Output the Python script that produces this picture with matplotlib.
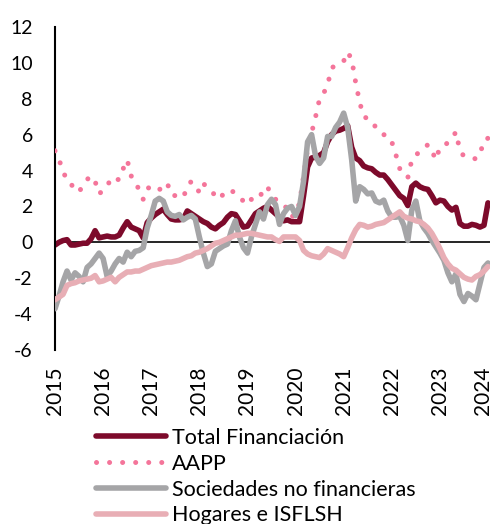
import matplotlib
matplotlib.use("Agg")
import matplotlib.pyplot as plt
import matplotlib.transforms as mtransforms
import numpy as np

plt.rcParams['font.family'] = ['Lato', 'DejaVu Sans']

# Monthly data, Jan 2015 .. Jan 2024 (index 0..108)
total_financiacion = [
    -0.15, 0.0, 0.1, 0.15, -0.15, -0.15, -0.1, -0.05, -0.05, 0.2, 0.65, 0.25,
    0.3, 0.35, 0.3, 0.3, 0.4, 0.8, 1.15, 0.85, 0.75, 0.65, 0.25, 1.1,
    1.35, 1.55, 1.7, 1.85, 1.55, 1.3, 1.25, 1.25, 1.3, 1.75, 1.6, 1.45,
    1.3, 1.15, 1.05, 0.85, 0.75, 0.95, 1.1, 1.4, 1.6, 1.55, 1.2, 0.85,
    0.9, 1.25, 1.6, 1.75, 1.9, 2.0, 1.8, 1.6, 1.4, 1.2, 1.25, 1.15,
    1.15, 1.15, 2.6, 4.2, 4.7, 4.75, 4.85, 5.0, 5.6, 6.0, 6.2, 6.25,
    6.35, 6.5, 5.3, 4.7, 4.55, 4.25, 4.15, 4.1, 3.9, 3.75, 3.75, 3.5,
    3.2, 2.9, 2.6, 2.45, 2.05, 3.1, 3.3, 3.1, 3.0, 2.95, 2.6, 2.2,
    2.35, 2.3, 2.0, 1.8, 1.95, 1.05, 0.9, 0.9, 1.0, 0.95, 0.85, 0.95,
    2.2,
]
aapp = [
    5.1, 4.6, 4.0, 3.4, 3.2, 3.1, 2.8, 3.2, 3.5, 3.7, 3.4, 2.7,
    2.9, 3.1, 3.6, 3.5, 3.5, 4.1, 4.6, 3.7, 3.4, 2.9, 2.4, 3.0,
    3.1, 2.9, 2.95, 3.0, 3.3, 2.65, 2.6, 2.6, 2.5, 3.1, 3.4, 3.1,
    2.8, 3.3, 3.0, 2.85, 2.6, 2.4, 2.7, 2.9, 2.9, 2.7, 2.5, 2.3,
    2.1, 2.4, 2.35, 2.45, 3.0, 3.1, 2.6, 2.4, 2.3, 2.15, 1.8, 1.4,
    1.6, 2.2, 3.7, 5.2, 6.1, 7.0, 8.0, 8.3, 8.8, 9.7, 9.9, 10.0,
    10.1, 10.6, 10.2, 8.9, 7.8, 7.0, 6.9, 6.8, 6.4, 6.1, 6.0, 5.95,
    5.6, 4.9, 4.1, 3.85, 3.6, 4.6, 4.9, 5.0, 5.2, 5.45, 5.1, 4.6,
    5.3, 5.4, 5.55, 5.8, 6.15, 5.1, 4.8, 4.75, 4.7, 4.65, 4.9, 5.7,
    5.8,
]
sociedades = [
    -3.7, -3.0, -2.2, -1.6, -2.1, -1.7, -1.9, -2.2, -1.4, -1.2, -0.9, -0.6,
    -0.9, -1.9, -1.6, -1.2, -0.9, -1.1, -0.55, -0.8, -0.5, -0.45, -0.3, 0.8,
    1.5, 2.3, 2.45, 2.3, 1.7, 1.5, 1.45, 1.55, 1.25, 1.4, 1.5, 1.3,
    0.3, -0.6, -1.35, -1.2, -0.5, -0.35, -0.2, -0.1, 0.65, 1.2, 0.3, -0.3,
    -0.6, 0.3, 1.0, 1.7, 1.3, 2.1, 2.4, 2.1, 1.0, 1.6, 1.9, 2.0,
    1.5, 2.0, 3.4, 5.6, 6.0, 4.8, 4.4, 4.7, 5.9, 5.9, 6.4, 6.7,
    7.2, 6.4, 4.6, 2.3, 3.1, 2.95, 2.7, 2.75, 2.3, 2.2, 2.35, 1.75,
    1.4, 1.4, 1.45, 0.95, 0.1, 1.8, 2.3, 1.2, 0.8, 0.5, 0.1, -0.25,
    -0.6, -1.0, -1.7, -2.2, -1.75, -2.9, -3.3, -2.85, -3.0, -3.2, -2.3, -1.4,
    -1.15,
]
hogares = [
    -3.2, -3.05, -2.9, -2.4, -2.3, -2.25, -2.15, -2.1, -2.05, -2.0, -1.85, -2.2,
    -2.15, -2.05, -1.95, -2.2, -1.95, -1.8, -1.65, -1.65, -1.6, -1.6, -1.5, -1.4,
    -1.3, -1.25, -1.2, -1.15, -1.1, -1.1, -1.05, -1.0, -0.9, -0.8, -0.75, -0.6,
    -0.55, -0.45, -0.35, -0.2, -0.05, 0.0, 0.1, 0.2, 0.3, 0.4, 0.4, 0.45,
    0.5, 0.5, 0.45, 0.4, 0.35, 0.3, 0.3, 0.15, 0.05, 0.3, 0.3, 0.3,
    0.3, 0.1, -0.45, -0.65, -0.75, -0.8, -0.85, -0.65, -0.35, -0.45, -0.55, -0.65,
    -0.8, -0.3, 0.25, 0.7, 1.0, 0.95, 0.85, 0.9, 1.0, 1.05, 1.1, 1.25,
    1.4, 1.55, 1.7, 1.45, 1.35, 1.3, 1.2, 1.15, 1.0, 0.8, 0.5, 0.1,
    -0.35, -0.85, -1.2, -1.45, -1.55, -1.75, -1.95, -2.05, -2.1, -1.9, -1.8, -1.6,
    -1.35,
]
labels = ["Total Financiación", "AAPP", "Sociedades no financieras", "Hogares e ISFLSH"]
year_labels = ["2015", "2016", "2017", "2018", "2019", "2020", "2021", "2022", "2023", "2024"]
y_ticks = [-6, -4, -2, 0, 2, 4, 6, 8, 10, 12]

months = np.arange(len(total_financiacion))

fig = plt.figure(figsize=(4.96, 5.24), dpi=100)
ax = fig.add_axes([55/496, 1 - 350/524, 435.4/496, 323/524])

ax.axhline(0, color='black', lw=1.2, zorder=1)
ax.plot(months, total_financiacion, color='#7D0A2B', lw=4.0, label=labels[0],
        solid_joinstyle='round', solid_capstyle='round', zorder=2)
ax.plot(months, aapp, color='#F4759A', lw=3.6, linestyle=(0, (0.01, 2.6)),
        dash_capstyle='round', label=labels[1], zorder=3)
ax.plot(months, sociedades, color='#A5A5A7', lw=4.0, label=labels[2],
        solid_joinstyle='round', solid_capstyle='round', zorder=4)
ax.plot(months, hogares, color='#E8AEB5', lw=4.0, label=labels[3],
        solid_joinstyle='round', solid_capstyle='round', zorder=5)

ax.set_xlim(0, 108.6)
ax.set_ylim(-6, 12)
ax.set_yticks(y_ticks)
ax.set_yticklabels([str(v) for v in y_ticks])
ax.set_xticks(np.arange(0, 109, 12))
ax.set_xticklabels(year_labels, rotation=90)
ax.tick_params(axis='both', length=0, labelsize=14, colors='black')
ax.tick_params(axis='x', labelsize=15, pad=12)
ax.tick_params(axis='y', pad=16)

# nudge the last year label so it stays inside the figure
last = ax.get_xticklabels()[-1]
last.set_transform(last.get_transform() +
                   mtransforms.ScaledTranslation(-5/100, 0, fig.dpi_scale_trans))

for s in ['top', 'right', 'bottom']:
    ax.spines[s].set_visible(False)
ax.spines['left'].set_linewidth(1.5)
ax.spines['left'].set_color('black')

leg = fig.legend(loc='upper left', bbox_to_anchor=(96/496, 1 - 428/524),
                 frameon=False, fontsize=15.5, handlelength=3.25, handletextpad=0.3,
                 labelspacing=0.27, borderpad=0, borderaxespad=0)

fig.savefig('out.png', dpi=100)
